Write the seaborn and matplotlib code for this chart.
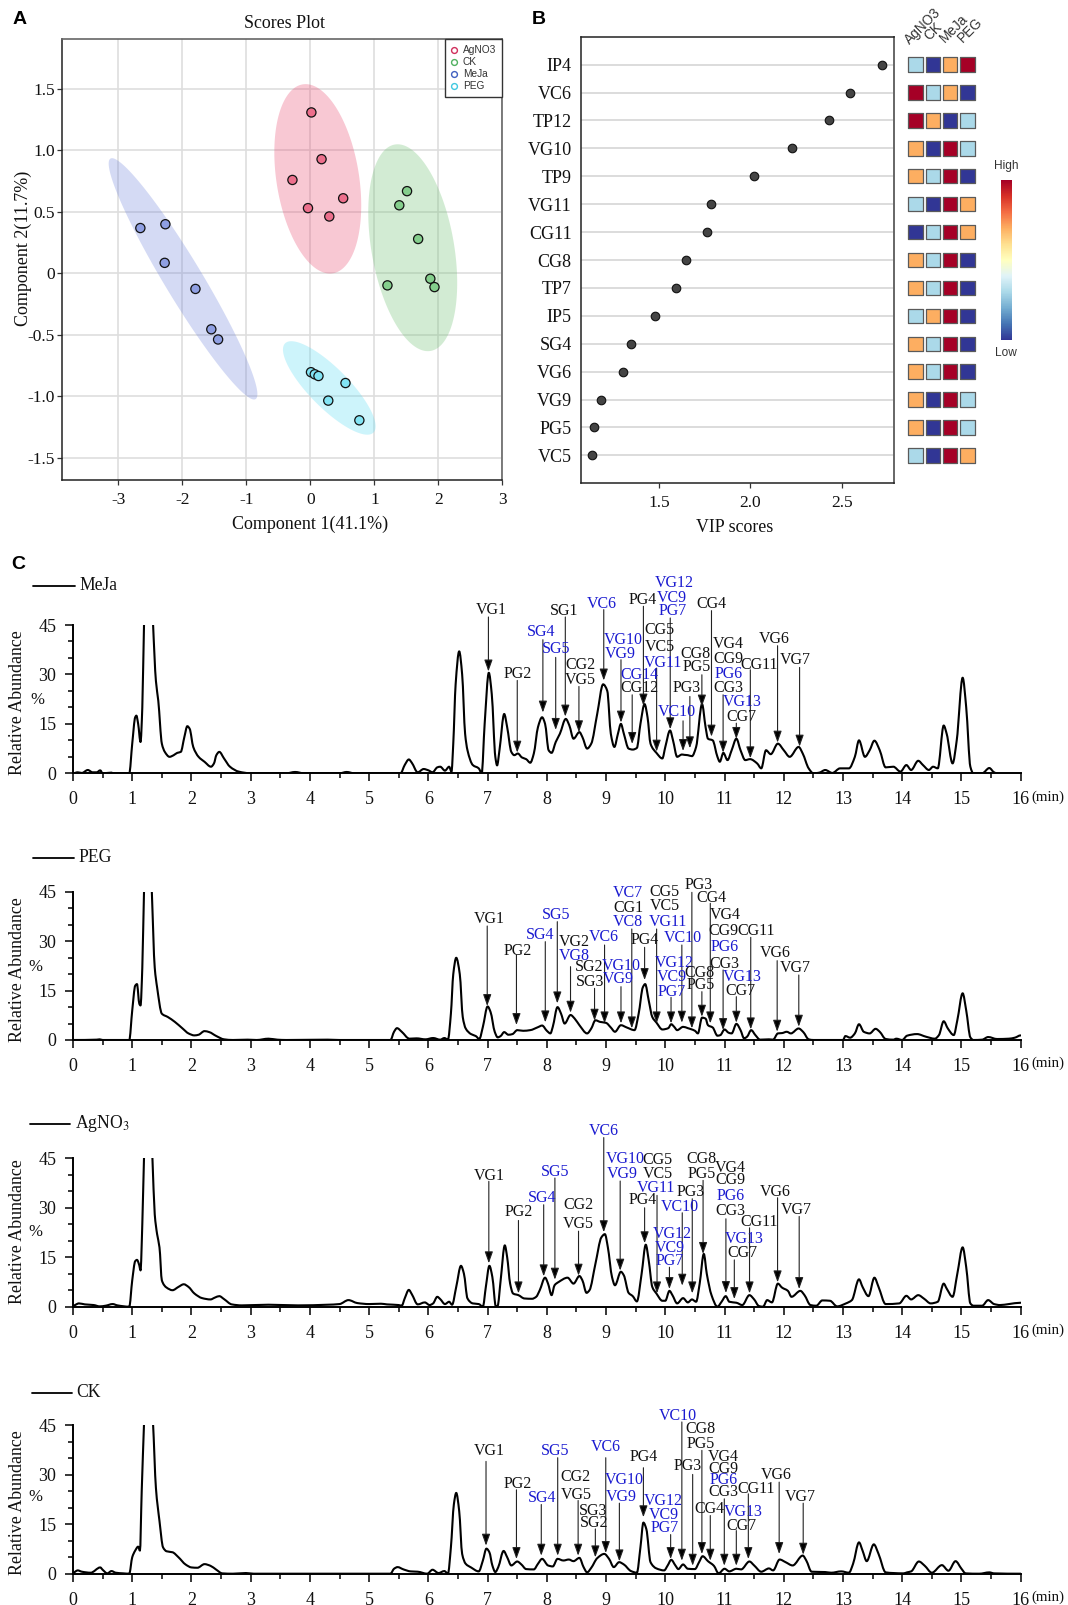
import numpy as np
import pandas as pd
import matplotlib
matplotlib.use("Agg")
import matplotlib.pyplot as plt
from matplotlib.lines import Line2D
from matplotlib.cm import ScalarMappable
from matplotlib.path import Path
from matplotlib.patches import PathPatch
import seaborn as sns

sns.set_theme(style="ticks")
plt.rcParams["font.family"] = ["Liberation Serif", "DejaVu Serif"]
plt.rcParams["mathtext.fontset"] = "stix"
plt.rcParams["axes.unicode_minus"] = False

W, H = 1068, 1605
SANS = ["Liberation Sans", "DejaVu Sans"]

# ---------- Panel A data ----------
groups = ["AgNO3", "CK", "MeJa", "PEG"]
ag_x = [0.016, 0.175, -0.28, 0.513, -0.037, 0.296]
ag_y = [1.309, 0.929, 0.76, 0.611, 0.531, 0.463]
ck_x = [1.511, 1.39, 1.685, 1.875, 1.94, 1.205]
ck_y = [0.669, 0.554, 0.28, -0.043, -0.111, -0.097]
mj_x = [-2.657, -2.266, -2.277, -1.796, -1.548, -1.442]
mj_y = [0.369, 0.40, 0.086, -0.126, -0.454, -0.537]
pg_x = [0.01, 0.069, 0.127, 0.549, 0.28, 0.766]
pg_y = [-0.803, -0.82, -0.834, -0.891, -1.034, -1.194]
# ellipse centre x, centre y, half width, half height, correlation
ag_ell = (0.116, 0.769, 0.679, 0.77, -0.28)
ck_ell = (1.60, 0.209, 0.695, 0.841, -0.34)
mj_ell = (-1.99, -0.044, 1.162, 0.981, -0.955)
pg_ell = (0.296, -0.931, 0.724, 0.38, -0.82)

# ---------- Panel B data ----------
features = ["IP4", "VC6", "TP12", "VG10", "TP9", "VG11", "CG11", "CG8", "TP7",
            "IP5", "SG4", "VG6", "VG9", "PG5", "VC5"]
vip = [2.72, 2.542, 2.427, 2.227, 2.017, 1.784, 1.765, 1.649, 1.592, 1.477,
       1.347, 1.303, 1.185, 1.145, 1.134]
lv_ag = [1, 3, 3, 2, 2, 1, 0, 2, 2, 1, 2, 2, 2, 2, 1]
lv_ck = [0, 1, 2, 0, 1, 0, 1, 1, 1, 2, 1, 1, 0, 0, 0]
lv_mj = [2, 2, 0, 3, 3, 3, 3, 3, 3, 3, 3, 3, 3, 3, 3]
lv_pg = [3, 0, 1, 1, 0, 2, 2, 0, 0, 0, 0, 0, 1, 1, 2]

# ---------- Panel C data: (minutes, relative abundance %) ----------
meja_trace = [(0,0),(.08,.3),(.15,.1),(.25,1),(.33,.3),(.4,.3),(.46,.9),(.5,0),(.65,.2),(.68,0),(.95,0),
 (1.0,9),(1.05,17),(1.07,17.5),(1.1,15),(1.14,9.5),(1.17,20),(1.2,46),(1.25,70),(1.3,70),(1.35,46),(1.4,28),(1.44,22),
 (1.5,9),(1.55,6.5),(1.63,5),(1.7,5.5),(1.76,6.2),(1.82,6.5),(1.88,11),(1.93,14.3),(1.97,13.5),(2.03,8),(2.12,5),
 (2.22,3.5),(2.33,2),(2.38,3),(2.42,5.5),(2.47,6.5),(2.55,4.5),(2.65,2),(2.8,.5),(3,0),(3.6,0),(3.75,.4),(3.9,0),
 (4.5,0),(4.62,.4),(4.75,0),(5.53,0),(5.6,2.5),(5.67,4.2),(5.72,3.2),(5.82,.3),(5.92,1.3),(6,.9),(6.07,.3),(6.15,1.8),
 (6.2,2),(6.28,.8),(6.35,2),(6.39,.5),(6.42,9),(6.46,27),(6.52,37),(6.57,30),(6.62,12),(6.66,7),(6.75,2.5),(6.85,1.5),
 (6.9,0),(6.95,15),(7.02,30.5),(7.07,24),(7.13,5),(7.16,2.4),(7.2,7),(7.28,18),(7.33,14),(7.4,6.5),(7.45,5.5),(7.51,6),
 (7.58,4.8),(7.65,4.3),(7.72,3.2),(7.78,6),(7.85,14),(7.92,17),(7.97,15),(8.03,7),(8.08,6.2),(8.15,9.5),(8.22,12),
 (8.32,16.5),(8.38,14.5),(8.45,10.5),(8.55,12.5),(8.6,11),(8.68,7.5),(8.75,9),(8.85,18),(8.95,27),(9.02,25),(9.08,12),
 (9.14,8),(9.2,12),(9.25,15),(9.3,12),(9.38,7.5),(9.45,7.2),(9.52,7.7),(9.58,15),(9.65,21),(9.7,17),(9.75,9),(9.85,6.2),
 (9.95,4.5),(10,8),(10.08,13),(10.13,10),(10.2,5),(10.28,5.7),(10.32,5.6),(10.38,5.5),(10.45,5.2),(10.52,8),(10.62,21),
 (10.68,14),(10.72,10.5),(10.8,10),(10.88,5),(10.92,3.5),(10.98,6.2),(11.05,4),(11.12,7),(11.2,10.5),(11.27,7),(11.35,4),
 (11.43,4.3),(11.55,3),(11.62,1.5),(11.7,7),(11.78,5.8),(11.9,9),(12,7),(12.1,5),(12.25,8),(12.32,6),(12.42,1.5),(12.5,0),
 (12.6,.2),(12.7,1),(12.82,.1),(12.95,1.5),(13.1,1.5),(13.2,5),(13.27,10),(13.37,5),(13.45,7),(13.53,9.9),(13.62,7),
 (13.72,1.8),(13.85,2),(13.97,.5),(14.07,2.5),(14.15,1),(14.27,3.8),(14.35,2.5),(14.45,1),(14.52,2),(14.6,1.5),(14.7,14.5),
 (14.75,12),(14.85,3),(14.92,10),(15.02,29),(15.08,20),(15.15,2),(15.2,0),(15.35,0),(15.47,1.6),(15.55,.3),(15.6,0)]

peg_trace = [(0,0),(.4,.1),(.45,.2),(.5,0),(.95,0),(1,9),(1.05,16.5),(1.08,17),(1.12,11),(1.14,10.5),(1.17,22),(1.2,46),
 (1.25,70),(1.3,60),(1.33,45.5),(1.38,22),(1.42,16),(1.5,8),(1.6,7),(1.72,5.5),(1.85,3.5),(1.95,2),(2.05,1.4),(2.12,1.6),
 (2.22,2.7),(2.3,2.4),(2.42,1.2),(2.55,.2),(2.7,0),(2.95,.1),(3.1,0),(3.3,.4),(3.45,.1),(3.6,0),(4.3,.1),(4.5,0),(5.36,0),
 (5.42,2.5),(5.47,3.6),(5.55,2.5),(5.68,.4),(5.8,.5),(5.95,.2),(6.08,.6),(6.2,.1),(6.27,.6),(6.33,.1),(6.38,8),(6.42,20),
 (6.47,25),(6.53,20),(6.58,7),(6.63,3.5),(6.72,1.8),(6.8,1.2),(6.86,.3),(6.92,4),(7,10.2),(7.05,8.5),(7.12,2.5),(7.17,.8),
 (7.22,1.2),(7.28,2.4),(7.35,1.6),(7.42,1.8),(7.5,3),(7.6,2.8),(7.72,3),(7.85,3.9),(7.92,4.4),(8,2.8),(8.06,2),(8.1,4),
 (8.18,10),(8.24,8),(8.3,5),(8.4,7.6),(8.47,6.5),(8.55,4.5),(8.68,2),(8.75,3.5),(8.82,6),(8.9,5.5),(9,5.2),(9.08,3.8),
 (9.15,2.5),(9.25,4.5),(9.35,3.8),(9.48,3),(9.55,8),(9.62,16),(9.66,17),(9.72,12),(9.78,7),(9.85,5.3),(9.95,3.2),(10.05,3.6),
 (10.1,4.8),(10.15,4),(10.2,3),(10.3,4),(10.38,3.6),(10.5,2.8),(10.55,2),(10.62,6.8),(10.68,6.5),(10.72,4.5),(10.8,3.8),
 (10.88,1.3),(10.93,1.5),(11,3.2),(11.07,2.2),(11.12,2),(11.2,4.9),(11.27,3),(11.33,.5),(11.38,1),(11.45,3),(11.52,1.5),
 (11.6,.1),(11.75,.2),(11.82,.1),(11.9,2),(11.97,2.1),(12.05,2.5),(12.12,2),(12.25,3.5),(12.33,2.4),(12.42,.2),(12.5,0),
 (13,0),(13.04,1.2),(13.12,.7),(13.2,2),(13.27,4.8),(13.35,2.5),(13.45,2),(13.55,3.4),(13.62,2.5),(13.72,.3),(13.85,.1),
 (13.9,.4),(14,0),(14.08,1.3),(14.25,1.8),(14.4,1),(14.55,.4),(14.62,1.5),(14.7,5.7),(14.77,3.5),(14.87,1.5),(14.93,6),
 (15.02,14.2),(15.08,9),(15.15,.8),(15.2,0),(15.35,.1),(15.45,.9),(15.6,.3),(15.8,.4),(15.9,.7),(16,1.4)]

agno3_trace = [(0,.3),(.1,1),(.2,.7),(.35,.5),(.45,.1),(.55,.3),(.67,.8),(.75,.4),(.95,0),(1,8),(1.05,13.8),(1.08,14.2),
 (1.12,12.5),(1.14,11),(1.17,25),(1.2,46),(1.25,70),(1.3,60),(1.34,45.5),(1.38,28),(1.42,22),(1.46,18),(1.5,8),(1.58,5.8),
 (1.68,5),(1.78,6),(1.87,6.8),(1.95,6),(2.05,4),(2.18,2.6),(2.32,2.2),(2.4,2.8),(2.47,3.2),(2.55,2.3),(2.68,.7),(2.85,.4),
 (3.3,.6),(3.8,.4),(4.3,.6),(4.5,.8),(4.65,2),(4.8,1.1),(5,.8),(5.2,.9),(5.3,.7),(5.5,.5),(5.55,.3),(5.6,2.5),(5.67,5.1),
 (5.72,3.8),(5.82,.7),(5.94,1.3),(6.02,.5),(6.08,1),(6.15,3),(6.2,2.3),(6.28,.8),(6.35,1.5),(6.4,.6),(6.47,6),(6.55,12.4),
 (6.6,10),(6.66,2.5),(6.75,1),(6.85,.8),(6.92,0),(6.97,6),(7.03,12.4),(7.08,9),(7.14,0),(7.17,.3),(7.22,8),(7.29,18.6),
 (7.33,15),(7.38,7),(7.43,4),(7.52,3.5),(7.62,2.5),(7.75,2.4),(7.82,3),(7.88,5),(7.97,8.8),(8.02,7),(8.08,3.5),(8.13,6.5),
 (8.2,7.5),(8.35,8.8),(8.45,7),(8.55,9.3),(8.6,8),(8.67,4.2),(8.72,5),(8.82,13),(8.92,21),(8.98,22),(9.03,18),(9.1,9),
 (9.15,6.5),(9.25,10.6),(9.3,9.5),(9.38,4.2),(9.45,3.2),(9.52,1.6),(9.6,10),(9.67,18.8),(9.72,14),(9.78,6),(9.85,4),(9.95,1.8),
 (10,1.8),(10.07,4.8),(10.12,3.5),(10.2,1),(10.3,2.6),(10.38,1.3),(10.45,2.2),(10.52,1.5),(10.58,7),(10.65,16),(10.7,10),
 (10.78,3.5),(10.88,0),(10.95,1.5),(11.02,3.2),(11.08,1.5),(11.2,1.2),(11.3,.5),(11.42,3.5),(11.5,2.2),(11.58,.2),(11.65,0),
 (11.72,2),(11.8,1.3),(11.9,7),(11.97,5.8),(12.07,4.8),(12.13,3),(12.28,4.8),(12.35,3.5),(12.45,.5),(12.55,.3),(12.65,1.9),
 (12.78,1.8),(12.9,.1),(13.05,1),(13.15,2),(13.27,8.3),(13.33,6),(13.43,3.2),(13.53,8.8),(13.6,6),(13.72,.8),(13.95,1),
 (14.07,3.3),(14.15,2.2),(14.27,3.5),(14.37,2.4),(14.48,1),(14.6,1.5),(14.7,7),(14.75,5.5),(14.85,3),(14.93,10),(15.02,18),
 (15.08,12),(15.15,1),(15.2,.3),(15.35,.3),(15.45,2),(15.55,.8),(15.65,.5),(15.8,.8),(16,1.2)]

ck_trace = [(0,.3),(.08,1),(.15,.6),(.3,.3),(.46,1.9),(.5,1.2),(.58,.1),(.65,.8),(.72,.3),(.85,.1),(.95,0),(1,5),(1.05,7),
 (1.1,8.2),(1.13,7),(1.16,25),(1.2,46),(1.25,70),(1.3,60),(1.35,46),(1.4,26),(1.46,16),(1.52,8),(1.58,6.8),(1.68,6.5),(1.78,5),
 (1.9,2.8),(2,1.9),(2.1,1.8),(2.22,2.9),(2.32,2.4),(2.42,1.2),(2.52,.1),(2.7,0),(2.92,.2),(3.05,0),(4.5,0),(5.36,0),(5.42,1.5),
 (5.48,2),(5.58,1.3),(5.7,.7),(5.82,.6),(5.98,0),(6.07,1.2),(6.17,.2),(6.27,.8),(6.33,0),(6.38,8),(6.43,21),(6.47,24.5),
 (6.52,19),(6.57,6),(6.63,3),(6.72,1.9),(6.85,.7),(6.92,4),(6.98,7.6),(7.03,6.5),(7.08,2.5),(7.13,.5),(7.18,2),(7.27,6.9),
 (7.33,5),(7.4,2.5),(7.5,3.7),(7.57,2.8),(7.65,1.4),(7.78,1.3),(7.85,3),(7.92,4.5),(8.02,2.5),(8.1,2.2),(8.18,4.5),(8.28,4),
 (8.37,4.3),(8.45,3.8),(8.55,4.8),(8.62,2),(8.68,.4),(8.75,1.8),(8.85,4.7),(8.97,6),(9.05,4.5),(9.13,2),(9.22,3.5),(9.3,2.8),
 (9.42,.8),(9.52,.3),(9.58,8),(9.63,15.5),(9.68,13.5),(9.75,3.5),(9.85,1.6),(9.98,1),(10.04,2.5),(10.1,4.2),(10.17,2.5),
 (10.22,1.4),(10.3,2.8),(10.38,1.5),(10.5,1.4),(10.57,3.5),(10.63,5.3),(10.72,3.8),(10.82,2.4),(10.9,.1),(11,1.5),(11.08,.7),
 (11.2,1.5),(11.28,1.3),(11.42,3.7),(11.5,2.5),(11.62,.6),(11.75,1.6),(11.82,1),(11.93,4.3),(12.03,3.5),(12.15,2.5),(12.32,5.5),
 (12.38,4),(12.47,.6),(12.7,.5),(12.8,.3),(12.97,.7),(13.1,.3),(13.17,3),(13.27,9.5),(13.33,7),(13.4,3.8),(13.52,8.9),(13.6,6),
 (13.72,.4),(13.85,.2),(14.02,.1),(14.08,.4),(14.15,.7),(14.28,3.7),(14.38,2.4),(14.5,.3),(14.67,2.6),(14.78,.9),(14.9,3.8),
 (15,1.5),(15.07,.1),(15.3,0),(15.47,.4),(15.55,.1),(16,0)]

# ---------- Peak labels: (name, is_blue, x, y) and arrows (x, top, tip),
#            on a layout grid, converted to minutes / % when drawn ----------
meja_labels = [("VG1",0,128,152),("PG2",0,195,342),("SG4",1,252,216),("SG5",1,291,268),("SG1",0,309,153),("CG2",0,350,315),
 ("VG5",0,350,360),("VC6",1,405,132),("VG10",1,457,241),("VG9",1,450,283),("CG14",1,499,346),("CG12",0,499,385),("PG4",0,507,120),
 ("CG5",0,549,210),("VC5",0,549,263),("VG11",1,556,309),("VG12",1,586,71),("VC9",1,580,114),("PG7",1,580,155),("VC10",1,592,455),
 ("PG3",0,616,385),("CG8",0,638,282),("PG5",0,640,322),("CG4",0,677,133),("VG4",0,720,253),("CG9",0,720,298),("PG6",1,720,344),
 ("CG3",0,720,385),("VG13",1,755,428),("CG7",0,752,470),("CG11",0,797,315),("VG6",0,834,239),("VG7",0,887,302)]
meja_arrows = [(121,172,335),(193,362,578),(257,240,458),(289,293,510),(313,172,470),(347,380,517),(409,150,362),(452,300,488),
 (480,405,552),(508,140,437),(541,325,575),(575,175,508),(607,483,573),(624,410,565),(654,345,440),(678,153,530),(707,405,578),
 (740,490,537),(775,330,595),(843,258,548),(898,323,560)]

peg_labels = [("VG1",0,124,178),("PG2",0,194,272),("SG4",1,250,226),("SG5",1,289,165),("VG2",0,335,245),("VG8",1,335,288),
 ("SG2",0,373,322),("SG3",0,374,367),("VC6",1,410,231),("VG10",1,454,318),("VG9",1,446,358),("VC7",1,470,100),("CG1",0,470,144),
 ("VC8",1,470,187),("PG4",0,511,241),("CG5",0,561,95),("VC5",0,561,138),("VG11",1,570,187),("VG12",1,585,310),("VC9",1,578,352),
 ("PG7",1,578,395),("VC10",1,607,233),("PG3",0,645,74),("CG8",0,649,338),("PG5",0,652,375),("CG4",0,678,114),("VG4",0,712,165),
 ("CG9",0,708,213),("PG6",1,710,262),("CG3",0,710,312),("VG13",1,754,350),("CG7",0,750,392),("CG11",0,790,212),("VG6",0,838,280),
 ("VG7",0,887,325)]
peg_arrows = [(118,198,438),(191,285,495),(263,245,487),(293,185,430),(326,320,458),(386,385,482),(411,255,490),(452,380,490),
 (479,207,505),(511,262,360),(541,207,490),(577,412,490),(604,255,488),(629,97,505),(654,395,470),(675,130,490),(707,330,510),
 (740,410,488),(776,232,508),(842,302,515),(896,345,500)]

agno3_labels = [("VG1",0,123,196),("PG2",0,197,304),("SG4",1,254,264),("SG5",1,288,184),("CG2",0,346,284),("VG5",0,345,340),
 ("VC6",1,409,62),("VG10",1,463,145),("VG9",1,455,192),("CG5",0,544,150),("VC5",0,544,191),("VG11",1,539,232),("PG4",0,507,269),
 ("VC10",1,599,290),("PG3",0,626,245),("VG12",1,579,370),("VC9",1,574,412),("PG7",1,574,450),("CG8",0,652,145),("PG5",0,654,190),
 ("VG4",0,725,172),("CG9",0,725,210),("PG6",1,725,256),("CG3",0,725,303),("VG13",1,759,385),("CG7",0,755,427),("CG11",0,797,335),
 ("VG6",0,837,245),("VG7",0,891,298)]
agno3_arrows = [(122,213,458),(196,330,548),(259,283,497),(287,203,507),(346,362,495),(409,82,365),(450,212,480),(542,255,548),
 (511,292,398),(605,307,525),(630,265,548),(573,470,535),(657,210,430),(714,325,547),(735,448,565),(773,352,548),(843,262,515),
 (897,318,535)]

ck_labels = [("VG1",0,122,213),("PG2",0,193,310),("SG4",1,254,354),("SG5",1,288,212),("CG2",0,339,291),("VG5",0,340,343),
 ("SG3",0,383,392),("SG2",0,384,428),("VC6",1,413,201),("VG10",1,460,300),("VG9",1,453,350),("PG4",0,508,231),("VG12",1,558,362),
 ("VC9",1,560,403),("PG7",1,560,441),("VC10",1,593,106),("CG8",0,650,146),("PG5",0,650,192),("PG3",0,618,257),("CG4",0,672,384),
 ("VG4",0,708,229),("CG9",0,708,266),("PG6",1,708,300),("CG3",0,708,335),("VG13",1,757,394),("CG7",0,752,435),("CG11",0,790,325),
 ("VG6",0,839,285),("VG7",0,899,350)]
ck_arrows = [(115,243,495),(191,328,535),(253,372,525),(294,232,525),(345,360,525),(388,445,530),(414,232,517),(448,368,542),
 (508,262,410),(576,462,535),(604,125,540),(654,210,520),(631,282,555),(675,405,540),(710,355,555),(740,450,555),(770,340,535),
 (847,305,520),(907,368,522)]

# ---------- helpers ----------
fig = plt.figure(figsize=(W / 100, H / 100), dpi=100, facecolor="white")

def box(l, t, r, b):
    return fig.add_axes([l / W, 1 - b / H, (r - l) / W, (b - t) / H])

def ftext(x, y, s, **kw):
    kw.setdefault("ha", "center")
    kw.setdefault("va", "center")
    return fig.text(x / W, 1 - y / H, s, **kw)

def ellipse(ax, p, color):
    cx, cy, rx, ry, rho = p
    t = np.linspace(0, 2 * np.pi, 240)
    ax.fill(cx + rx * np.cos(t), cy + ry * np.cos(t + np.arccos(rho)),
            color=color, alpha=0.3, lw=0, zorder=1)

def curved_line(ax, line):
    """Show a seaborn line as monotone Bezier segments through its own vertices."""
    xy = line.get_xydata()
    x, y = xy[:, 0], xy[:, 1]
    h = np.diff(x)
    d = np.diff(y) / h
    m = np.zeros_like(y)
    for i in range(1, len(y) - 1):
        if d[i - 1] * d[i] > 0:
            w1, w2 = 2 * h[i] + h[i - 1], h[i] + 2 * h[i - 1]
            m[i] = (w1 + w2) / (w1 / d[i - 1] + w2 / d[i])
    verts = [(x[0], y[0])]
    codes = [Path.MOVETO]
    for i in range(len(h)):
        verts += [(x[i] + h[i] / 3, y[i] + m[i] * h[i] / 3),
                  (x[i + 1] - h[i] / 3, y[i + 1] - m[i + 1] * h[i] / 3),
                  (x[i + 1], y[i + 1])]
        codes += [Path.CURVE4] * 3
    line.set_visible(False)
    ax.add_patch(PathPatch(Path(verts, codes), fill=False, edgecolor="black", lw=line.get_linewidth(),
                           joinstyle="round", capstyle="round"))

# ---------- Panel A ----------
axA = box(62.3, 39, 502.3, 479.7)
fill_cols = {"AgNO3": "#E8496F", "CK": "#6CC070", "MeJa": "#7286DC", "PEG": "#5CDCF2"}
pt_cols = {"AgNO3": "#EC6F8C", "CK": "#84CE8C", "MeJa": "#8F9FE2", "PEG": "#82E4F4"}
open_cols = {"AgNO3": "#D02F5C", "CK": "#50B060", "MeJa": "#4060C0", "PEG": "#40C8E0"}
for g, p in zip(groups, [ag_ell, ck_ell, mj_ell, pg_ell]):
    ellipse(axA, p, fill_cols[g])
dfA = pd.DataFrame({
    "x": ag_x + ck_x + mj_x + pg_x,
    "y": ag_y + ck_y + mj_y + pg_y,
    "group": np.repeat(groups, 6),
})
sns.scatterplot(data=dfA, x="x", y="y", hue="group", palette=pt_cols, s=44, edgecolor="#111111",
                linewidth=0.9, legend=False, ax=axA, zorder=3)
axA.set_xlim(-3.877, 3.0)
axA.set_ylim(-1.677, 1.906)
axA.set_xticks(range(-3, 4))
axA.set_yticks([-1.5, -1, -.5, 0, .5, 1, 1.5])
axA.set_yticklabels(["-1.5", "-1.0", "-0.5", "0", "0.5", "1.0", "1.5"])
axA.grid(True, color="#DEDEDE", lw=1.2, zorder=0)
axA.set_axisbelow(True)
axA.tick_params(labelsize=12.5, length=3.5, width=0.9, color="#333333", labelcolor="#111111")
axA.tick_params(axis="x", pad=5)
axA.tick_params(axis="y", pad=2)
axA.set_xlabel("")
axA.set_ylabel("")
for s in ["left", "bottom"]:
    axA.spines[s].set_color("#222222")
    axA.spines[s].set_linewidth(1.1)
for s in ["top", "right"]:
    axA.spines[s].set_color("#666666")
    axA.spines[s].set_linewidth(1.2)
hA = [Line2D([], [], ls="", marker="o", ms=4.2, mfc="white", mec=open_cols[g], mew=1.0, label=g) for g in groups]
legA = axA.legend(handles=hA, loc="upper right", borderaxespad=0, fancybox=False, framealpha=1, edgecolor="#333333",
                  prop={"family": SANS, "size": 7.3}, labelspacing=0.2, handlelength=0.6, handletextpad=0.6,
                  borderpad=0.6, labelcolor="#333333")
legA.get_frame().set_linewidth(1.0)
ftext(284.3, 23.3, "Scores Plot", fontsize=12.9, color="#111111")
ftext(310, 524, "Component 1(41.1%)", fontsize=13, color="#111111")
ftext(23, 248, "Component 2(11.7%)", fontsize=13, rotation=90, color="#111111")

# ---------- Panel B ----------
axB = box(580.7, 36.7, 894, 483.3)
for i in range(len(features)):
    axB.axhline(i, color="#D2D2D2", lw=1.1, zorder=1)
sns.scatterplot(x=vip, y=list(range(len(features))), color="#444444", s=38, edgecolor="#111111",
                linewidth=0.8, ax=axB, zorder=3, legend=False)
axB.set_xlim(1.073, 2.784)
axB.set_ylim(15, -1)
axB.set_yticks(range(len(features)))
axB.set_yticklabels(features)
axB.set_xticks([1.5, 2.0, 2.5])
axB.tick_params(axis="y", length=0, pad=6.5, labelsize=13, labelcolor="#111111")
axB.tick_params(axis="x", length=3.5, width=0.9, pad=5, labelsize=12.5, labelcolor="#111111", color="#333333")
axB.set_xlabel("")
axB.set_ylabel("")
for s in axB.spines.values():
    s.set_color("#222222")
    s.set_linewidth(1.1)
axB.spines["right"].set_color("#666666")
axB.spines["right"].set_linewidth(1.4)
ftext(735, 527, "VIP scores", fontsize=12.9, color="#111111")

level_cols = {0: "#313695", 1: "#ABD9E9", 2: "#FDAE61", 3: "#A50026"}
axH = box(907, 36.7, 976, 483.3)
dfH = pd.DataFrame({
    "col": np.repeat(np.arange(4), len(features)),
    "row": np.tile(np.arange(len(features)), 4),
    "level": lv_ag + lv_ck + lv_mj + lv_pg,
})
sns.scatterplot(data=dfH, x="col", y="row", hue="level", palette=level_cols, marker="s", s=108,
                edgecolor="#5A5A5A", linewidth=0.9, legend=False, ax=axH, clip_on=False)
axH.set_xlim(-.5, 3.5)
axH.set_ylim(15, -1)
axH.axis("off")
for name, (x0, y0) in zip(groups, [(910, 45), (929, 41), (945, 43), (963, 43)]):
    ftext(x0, y0, name, fontsize=9.8, family=SANS, rotation=45, rotation_mode="anchor",
          ha="left", va="baseline", color="#333333")

cax = box(1001, 180, 1011.7, 340)
cb = fig.colorbar(ScalarMappable(cmap="RdYlBu_r"), cax=cax)
cb.outline.set_visible(False)
cax.set_yticks([])
ftext(1006, 166, "High", fontsize=8.6, family=SANS, color="#333333")
ftext(1006, 353, "Low", fontsize=8.6, family=SANS, color="#333333")

# ---------- Panel labels ----------
ftext(20, 19, "A", fontsize=14, family=SANS, weight="bold", color="black")
ftext(538.3, 19, "B", fontsize=14, family=SANS, weight="bold", color="black")
ftext(18.5, 565, "C", fontsize=14, family=SANS, weight="bold", color="black")

# ---------- Panel C ----------
panels = [
    ("MeJa", meja_trace, meja_labels, meja_arrows, 625, 773.3, 640, 586, 33.4, 74.7, 79, 703, 37, 700),
    ("PEG", peg_trace, peg_labels, peg_arrows, 892, 1040, 540, 858, 32.7, 74, 78, 970, 35.5, 967),
    ("AgNO$_3$", agno3_trace, agno3_labels, agno3_arrows, 1158.3, 1306.7, 588, 1124, 30, 70, 75, 1232, 35.8, 1232),
    ("CK", ck_trace, ck_labels, ck_arrows, 1425.3, 1573.7, 579, 1392.7, 31.7, 72.3, 76.5, 1503, 35, 1497),
]
for name, trace, labels, arrows, top, bot, base, ly, lx0, lx1, ltx, ycy, pcx, pcy in panels:
    ax = box(73, top, 1020.7, bot)
    t = [p[0] for p in trace]
    v = [p[1] for p in trace]
    sns.lineplot(x=t, y=v, color="black", lw=1.5, estimator=None, sort=False, ax=ax)
    curved_line(ax, ax.lines[-1])
    ax.set_xlim(0, 16)
    ax.set_ylim(0, 45)
    ax.set_xticks(range(17))
    ax.set_xticks(np.arange(0.5, 16, 1), minor=True)
    ax.set_yticks([0, 15, 30, 45])
    ax.set_yticks([5, 10, 20, 25, 35, 40], minor=True)
    ax.tick_params(axis="both", which="major", length=6, width=1.1, labelsize=13, color="black", labelcolor="#111111")
    ax.tick_params(axis="both", which="minor", length=3.5, width=1.1, color="black")
    ax.tick_params(axis="x", which="major", pad=7)
    ax.tick_params(axis="y", which="major", pad=6)
    ax.set_xlabel("")
    ax.set_ylabel("")
    sns.despine(ax=ax)
    for s in ["left", "bottom"]:
        ax.spines[s].set_linewidth(1.4)
        ax.spines[s].set_color("black")
    ax.patch.set_alpha(0)

    to_t = lambda px: 7 + (px - 119) / 147.9
    to_v = lambda py: (base - py) / 9.867
    for lab, blue, px, py in labels:
        ax.text(to_t(px), to_v(py), lab, ha="center", va="center", fontsize=11.5, clip_on=False,
                color="#1A1AD0" if blue else "#111111", zorder=5)
    for px, ptop, ptip in arrows:
        ax.annotate("", xy=(to_t(px), to_v(ptip)), xytext=(to_t(px), to_v(ptop)), annotation_clip=False,
                    arrowprops=dict(arrowstyle="-|>,head_width=0.25,head_length=0.7", mutation_scale=10, shrinkA=0,
                                    shrinkB=0, lw=0.8, color="#222222", fc="black"))

    fig.add_artist(Line2D([lx0 / W, lx1 / W], [1 - ly / H, 1 - ly / H], color="black", lw=1.3))
    ftext(ltx, ly, name, fontsize=12.7, ha="left", color="#111111")
    ftext(18, ycy, "Relative Abundance", fontsize=12.85, rotation=90, color="#111111")
    ftext(pcx, pcy, "%", fontsize=12, color="#111111")
    ftext(1047.7, bot + 23.5, "(min)", fontsize=10.8, color="#111111")

fig.savefig("out.png", dpi=100)
